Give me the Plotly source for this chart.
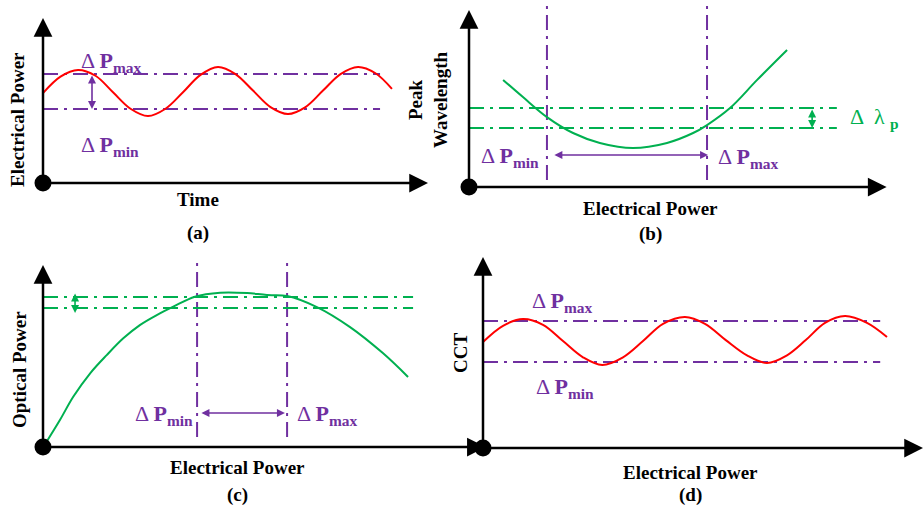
import plotly.graph_objects as go

W, H = 924, 510
PURPLE = "#7030A0"
RED = "#FF0000"
GREEN = "#00B050"
BLACK = "#000000"
DASH = "15px,6px,3px,6px"
SERIF = "Liberation Serif"

# ---------------- data (arbitrary schematic units) ----------------
# (a) Electrical power vs time
a_time = [0, 0.5, 1, 1.5, 2, 2.5, 3, 3.5, 4, 4.5, 5, 5.5, 6, 6.5, 7, 7.5, 8, 8.5, 9, 9.5, 9.97]
a_power = [5.45, 6.45, 6.85, 6.5, 5.5, 4.5, 4.06, 4.5, 5.5, 6.55, 7.03, 6.6, 5.6,
           4.6, 4.18, 4.6, 5.6, 6.6, 7.03, 6.65, 5.7]
a_pmax, a_pmin = 6.6, 4.48
a_line_end = 9.63
a_arrow_x = 1.4
a_xtip, a_ytip = 11, 10

# (b) Peak wavelength vs electrical power
b_power = [0.98, 1.55, 2.24, 2.99, 3.76, 4.71, 5.69, 6.44, 6.84, 7.50, 8.28, 9.14]
b_wavelength = [6.05, 5.08, 3.95, 3.05, 2.49, 2.20, 2.49, 3.05, 3.50, 4.46, 6.05, 7.74]
b_pmin, b_pmax = 2.24, 6.84
b_lam_hi, b_lam_lo = 4.46, 3.33
b_line_end = 10.57
b_lam_arrow_x = 9.86
b_p_arrow_y = 1.81
b_p_arrow = [2.41, 6.87]
b_vline = [0.4, 10.6]
b_xtip, b_ytip = 12, 10

# (c) Optical power vs electrical power
c_power = [0.10, 0.47, 0.84, 1.31, 1.77, 2.23, 2.69, 3.16, 3.62, 4.22, 4.92,
           5.67, 6.22, 6.78, 7.61, 8.53, 9.44, 10.14]
c_optical = [0.29, 1.48, 2.76, 4.05, 5.05, 5.97, 6.70, 7.25, 7.71, 8.26, 8.48,
             8.46, 8.35, 8.30, 7.69, 6.59, 5.16, 3.85]
c_hi, c_lo = 8.24, 7.64
c_line_end = 10.28
c_arrow_x = 0.89
c_arrow = [8.52, 7.36]
c_pmin, c_pmax = 4.28, 6.78
c_vline = [0.55, 10.38]
c_p_arrow_y = 1.87
c_p_arrow = [4.36, 6.72]
c_xtip, c_ytip = 12.3, 10

# (d) CCT vs electrical power
d_power = [0, 0.5, 1.0, 1.5, 2.0, 2.5, 2.98, 3.5, 4.0, 4.5, 5.05, 5.55, 6.07, 6.6,
           7.1, 7.6, 8.07, 8.55, 9.05, 9.6, 10.1]
d_cct = [5.55, 6.4, 6.75, 6.45, 5.6, 4.75, 4.35, 4.75, 5.6, 6.5, 6.86, 6.5, 5.65,
         4.85, 4.45, 4.85, 5.65, 6.55, 6.91, 6.55, 5.81]
d_pmax, d_pmin = 6.65, 4.5
d_line_end = 9.93
d_xtip, d_ytip = 11, 10

# ---------------- panel geometry (pixel placement) ----------------
panels = {
    "a": dict(ox=43, oy=183, sx=35.0, sy=16.5, box=(28, 0, 445, 200)),
    "b": dict(ox=469, oy=187, sx=34.8, sy=17.7, box=(455, 0, 905, 205)),
    "c": dict(ox=43, oy=447, sx=36.0, sy=18.2, box=(28, 245, 495, 465)),
    "d": dict(ox=483, oy=448, sx=40.0, sy=19.1, box=(468, 240, 924, 465)),
}
axis_ids = {"a": ("x", "y"), "b": ("x2", "y2"), "c": ("x3", "y3"), "d": ("x4", "y4")}

fig = go.Figure()
layout_axes = {}
for key, p in panels.items():
    l, t, r, b = p["box"]
    xr = [(l - p["ox"]) / p["sx"], (r - p["ox"]) / p["sx"]]
    yr = [(p["oy"] - b) / p["sy"], (p["oy"] - t) / p["sy"]]
    xa, ya = axis_ids[key]
    xname = "xaxis" if xa == "x" else "xaxis" + xa[1:]
    yname = "yaxis" if ya == "y" else "yaxis" + ya[1:]
    layout_axes[xname] = dict(domain=[l / W, r / W], range=xr, visible=False,
                              anchor=ya, fixedrange=True)
    layout_axes[yname] = dict(domain=[1 - b / H, 1 - t / H], range=yr, visible=False,
                              anchor=xa, fixedrange=True)


def line(key, x, y, color, width=2, dash=None, shape="linear"):
    xa, ya = axis_ids[key]
    ln = dict(color=color, width=width, dash=dash, shape=shape)
    if shape == "spline":
        ln["smoothing"] = 1.0
    fig.add_trace(go.Scatter(x=x, y=y, mode="lines", xaxis=xa, yaxis=ya, line=ln,
                             hoverinfo="skip", showlegend=False))


annotations = []


def axes(key, xtip, ytip):
    xa, ya = axis_ids[key]
    for tx, ty in ((xtip, 0), (0, ytip)):
        annotations.append(dict(x=tx, y=ty, ax=0, ay=0, xref=xa, yref=ya, axref=xa, ayref=ya,
                                text="", showarrow=True, arrowhead=2, arrowsize=1.5,
                                arrowwidth=2.5, arrowcolor=BLACK, standoff=0))
    fig.add_trace(go.Scatter(x=[0], y=[0], mode="markers", xaxis=xa, yaxis=ya,
                             marker=dict(symbol="circle", size=17, color=BLACK),
                             cliponaxis=False, hoverinfo="skip", showlegend=False))


def darrow(key, x0, y0, x1, y1, color):
    xa, ya = axis_ids[key]
    annotations.append(dict(x=x1, y=y1, ax=x0, ay=y0, xref=xa, yref=ya, axref=xa, ayref=ya,
                            text="", showarrow=True, arrowside="end+start", arrowhead=2,
                            arrowsize=1.0, arrowwidth=1.6, arrowcolor=color))


def ptext(px, py, text, color=BLACK, size=19, xanchor="center", angle=0):
    annotations.append(dict(x=px / W, y=1 - py / H, xref="paper", yref="paper", text=text,
                            showarrow=False, xanchor=xanchor, yanchor="middle",
                            textangle=angle, font=dict(family=SERIF, size=size, color=color)))


def dp(sub):
    return "Δ <b>P<sub>%s</sub></b>" % sub


# ---- (a)
line("a", [0, a_line_end], [a_pmax, a_pmax], PURPLE, 2, DASH)
line("a", [0, a_line_end], [a_pmin, a_pmin], PURPLE, 2, DASH)
line("a", a_time, a_power, RED, 2, shape="spline")
axes("a", a_xtip, a_ytip)
darrow("a", a_arrow_x, a_pmax, a_arrow_x, a_pmin, PURPLE)
ptext(79, 62, dp("max"), PURPLE, 22, "left")
ptext(79, 146, dp("min"), PURPLE, 22, "left")
ptext(17, 120, "<b>Electrical Power</b>", angle=-90)
ptext(198, 200, "<b>Time</b>")
ptext(198, 233, "<b>(a)</b>")

# ---- (b)
for xv in (b_pmin, b_pmax):
    line("b", [xv, xv], b_vline, PURPLE, 2, DASH)
line("b", [0, b_line_end], [b_lam_hi, b_lam_hi], GREEN, 2, DASH)
line("b", [0, b_line_end], [b_lam_lo, b_lam_lo], GREEN, 2, DASH)
line("b", b_power, b_wavelength, GREEN, 2, shape="spline")
axes("b", b_xtip, b_ytip)
darrow("b", b_lam_arrow_x, b_lam_hi, b_lam_arrow_x, b_lam_lo, GREEN)
darrow("b", b_p_arrow[0], b_p_arrow_y, b_p_arrow[1], b_p_arrow_y, PURPLE)
ptext(541, 157, dp("min"), PURPLE, 22, "right")
ptext(716, 158, dp("max"), PURPLE, 22, "left")
ptext(848, 118, "Δ  λ <sub><b>p</b></sub>", GREEN, 22, "left")
ptext(428, 100, "<b>Peak<br>Wavelength</b>", angle=-90)
ptext(650, 208, "<b>Electrical Power</b>")
ptext(650, 234, "<b>(b)</b>")

# ---- (c)
for xv in (c_pmin, c_pmax):
    line("c", [xv, xv], c_vline, PURPLE, 2, DASH)
line("c", [0, c_line_end], [c_hi, c_hi], GREEN, 2, DASH)
line("c", [0, c_line_end], [c_lo, c_lo], GREEN, 2, DASH)
line("c", c_power, c_optical, GREEN, 2, shape="spline")
axes("c", c_xtip, c_ytip)
darrow("c", c_arrow_x, c_arrow[0], c_arrow_x, c_arrow[1], GREEN)
darrow("c", c_p_arrow[0], c_p_arrow_y, c_p_arrow[1], c_p_arrow_y, PURPLE)
ptext(195, 415, dp("min"), PURPLE, 22, "right")
ptext(295, 415, dp("max"), PURPLE, 22, "left")
ptext(19, 370, "<b>Optical Power</b>", angle=-90)
ptext(237, 467, "<b>Electrical Power</b>")
ptext(237, 495, "<b>(c)</b>")

# ---- (d)
line("d", [0, d_line_end], [d_pmax, d_pmax], PURPLE, 2, DASH)
line("d", [0, d_line_end], [d_pmin, d_pmin], PURPLE, 2, DASH)
line("d", d_power, d_cct, RED, 2, shape="spline")
axes("d", d_xtip, d_ytip)
ptext(530, 302, dp("max"), PURPLE, 22, "left")
ptext(534, 388, dp("min"), PURPLE, 22, "left")
ptext(460, 353, "<b>CCT</b>", angle=-90)
ptext(690, 472, "<b>Electrical Power</b>")
ptext(690, 495, "<b>(d)</b>")

fig.update_layout(width=W, height=H, margin=dict(l=0, r=0, t=0, b=0),
                  paper_bgcolor="white", plot_bgcolor="rgba(0,0,0,0)",
                  showlegend=False, annotations=annotations,
                  font=dict(family=SERIF), **layout_axes)
fig.write_html("out.html")
